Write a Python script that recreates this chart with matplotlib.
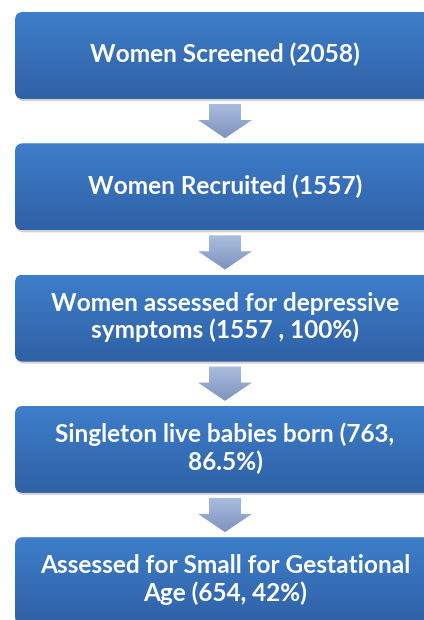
import numpy as np
import matplotlib
matplotlib.use("Agg")
import matplotlib.pyplot as plt
from matplotlib.patches import FancyBboxPatch, Polygon
from matplotlib.colors import LinearSegmentedColormap

# flow stages, top to bottom
stage_labels = [
    "Women Screened (2058)",
    "Women Recruited (1557)",
    "Women assessed for depressive\nsymptoms (1557 , 100%)",
    "Singleton live babies born (763,\n86.5%)",
    "Assessed for Small for Gestational\nAge (654, 42%)",
]
stage_counts = [2058, 1557, 1557, 763, 654]

W, H = 424, 620
box_left, box_right = 15, 435
box_top0, box_pitch, box_h = 12, 131.3, 87

box_cmap = LinearSegmentedColormap.from_list("box", ["#3E7ECB", "#2F61A5"])
arrow_cmap = LinearSegmentedColormap.from_list("arr", ["#ABBEDF", "#7E93BE"])
grad = np.linspace(0, 1, 256).reshape(-1, 1)

fig = plt.figure(figsize=(W / 100, H / 100), dpi=100)
ax = fig.add_axes([0, 0, 1, 1])
ax.set_xlim(0, W)
ax.set_ylim(H, 0)
ax.axis("off")

for i, label in enumerate(stage_labels):
    top = box_top0 + i * box_pitch
    bottom = top + box_h

    # soft shadow
    shadow = FancyBboxPatch((box_left + 1, top + 2), box_right - box_left, box_h,
                            boxstyle="round,pad=0,rounding_size=8",
                            fc="#000000", ec="none", alpha=0.18, zorder=1)
    ax.add_patch(shadow)

    box = FancyBboxPatch((box_left, top), box_right - box_left, box_h,
                         boxstyle="round,pad=0,rounding_size=8",
                         fc="none", ec="none", zorder=2)
    ax.add_patch(box)
    im = ax.imshow(grad, cmap=box_cmap, aspect="auto",
                   extent=(box_left, box_right, bottom, top), zorder=2)
    im.set_clip_path(box)

    ax.text(225, (top + bottom) / 2 - 1, label, color="white", fontsize=17.6,
            fontweight="bold", family="Lato", ha="center", va="center",
            linespacing=1.2, zorder=3)

    # arrow to the next stage
    if i < len(stage_labels) - 1:
        a_top = bottom + 5
        a_tip = box_top0 + (i + 1) * box_pitch - 5
        a_mid = a_top + 16
        pts = [(209, a_top), (241, a_top), (241, a_mid), (252, a_mid),
               (225, a_tip), (198, a_mid), (209, a_mid)]
        arrow = Polygon(pts, closed=True, fc="none", ec="none", zorder=2)
        ax.add_patch(arrow)
        aim = ax.imshow(grad, cmap=arrow_cmap, aspect="auto",
                        extent=(198, 252, a_tip, a_top), zorder=2)
        aim.set_clip_path(arrow)

ax.set_xlim(0, W)
ax.set_ylim(H, 0)
fig.savefig("out.png", dpi=100)
